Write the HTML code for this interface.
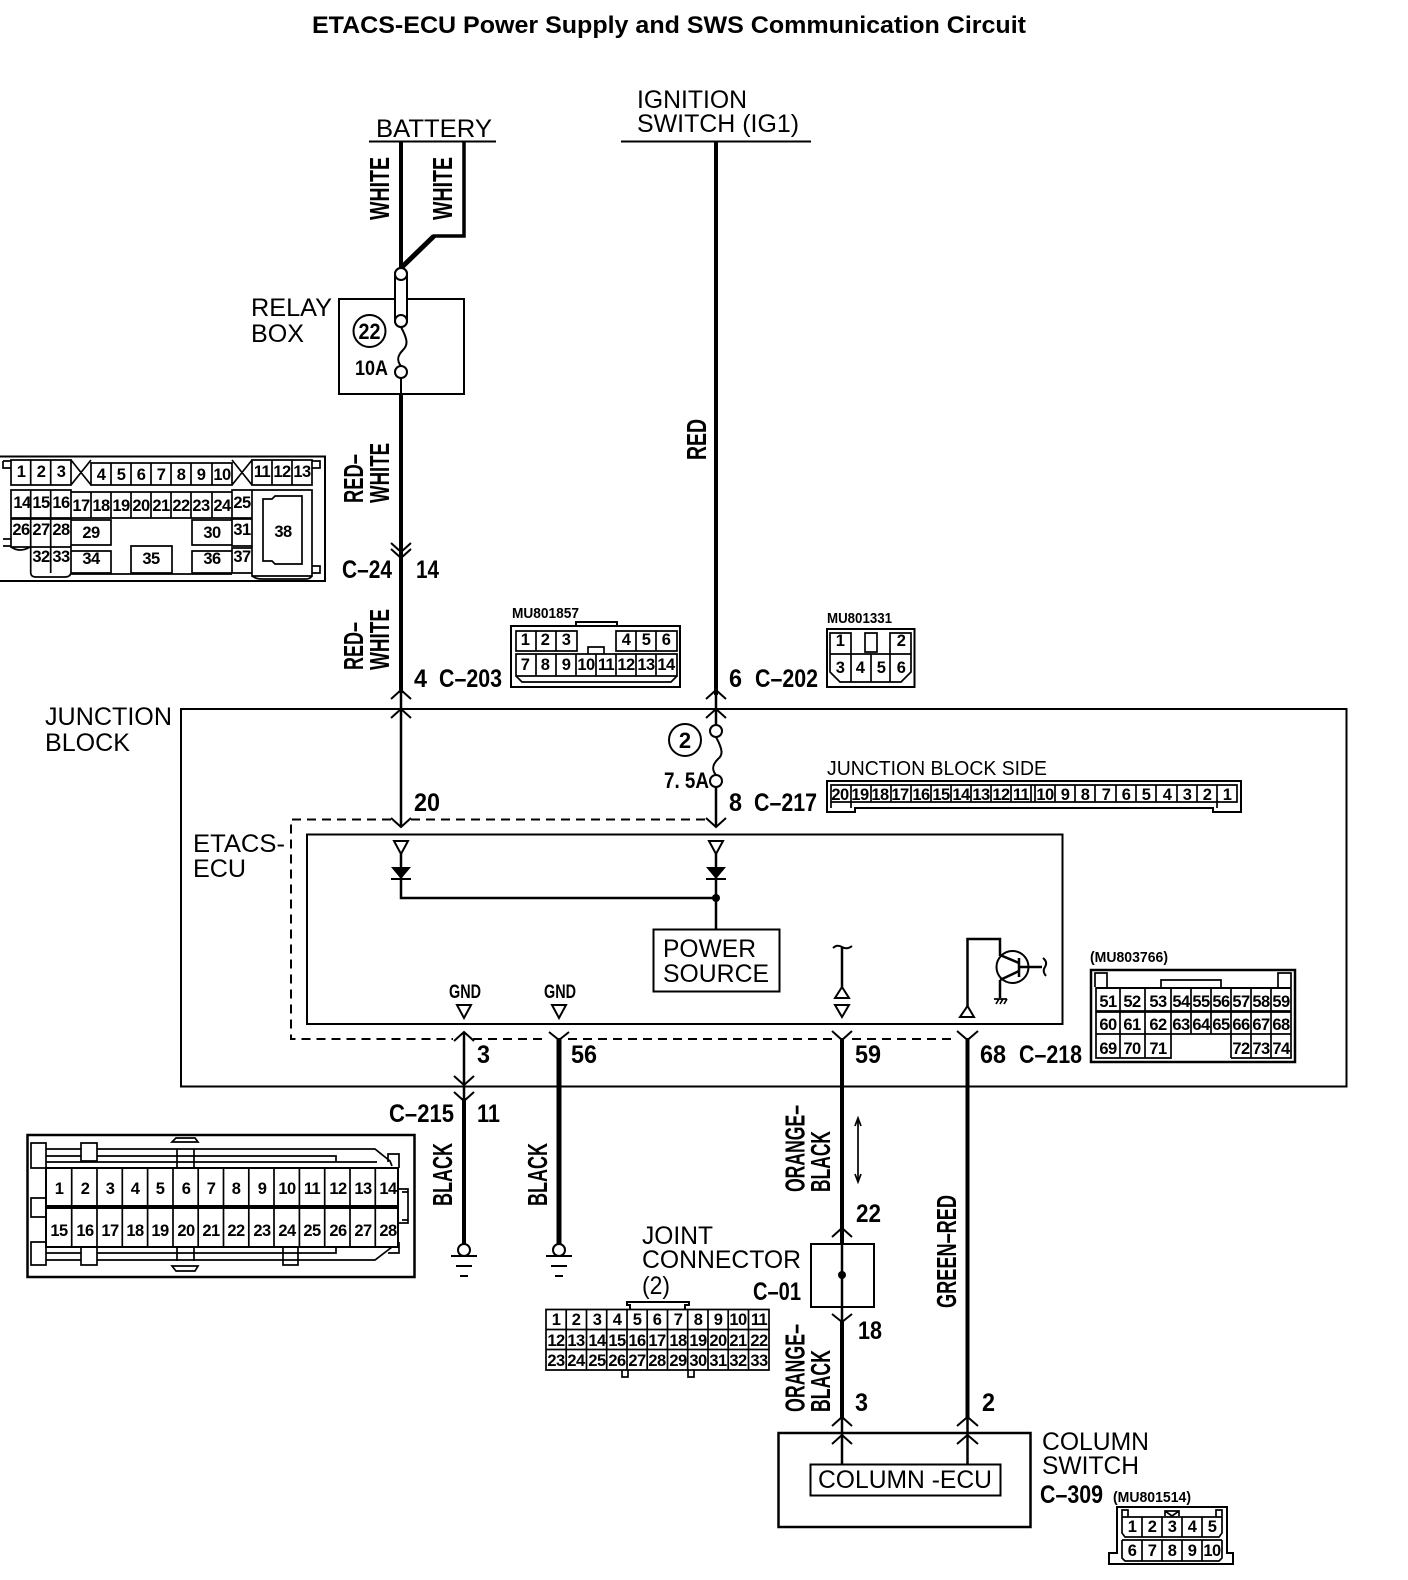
<!DOCTYPE html>
<html><head><meta charset="utf-8"><title>ETACS-ECU Power Supply and SWS Communication Circuit</title>
<style>
html,body{margin:0;padding:0;background:#fff}
svg{display:block}
text{font-family:"Liberation Sans",sans-serif;fill:#000}
.t{font-size:25px}
.b{font-size:25px;font-weight:bold}
.r{font-size:28px;font-weight:bold}
.n{font-size:16.5px;font-weight:bold;text-anchor:middle;letter-spacing:-.6px}
.m{font-size:15px;font-weight:bold}
.l{fill:none;stroke:#000;stroke-width:2}
.f{fill:none;stroke:#000;stroke-width:1.7}
.w{fill:none;stroke:#000;stroke-width:2.5}
.k{fill:none;stroke:#000;stroke-width:4}
.x{fill:none;stroke:#000;stroke-width:5}
.d{fill:none;stroke:#000;stroke-width:2;stroke-dasharray:9 6}
.c{fill:#fff;stroke:#000;stroke-width:2}
</style></head><body>
<svg xmlns="http://www.w3.org/2000/svg" width="1408" height="1580" viewBox="0 0 1408 1580">
<rect width="1408" height="1580" fill="#fff"/>
<text x="312" y="33" font-size="24" font-weight="bold" textLength="714" lengthAdjust="spacingAndGlyphs">ETACS-ECU Power Supply and SWS Communication Circuit</text>

<!-- top supply -->
<text class="t" x="376" y="137" textLength="116" lengthAdjust="spacingAndGlyphs">BATTERY</text>
<path class="l" d="M369 141.500H496M621 141.500H811"/>
<text class="t" x="637" y="108" textLength="110" lengthAdjust="spacingAndGlyphs">IGNITION</text>
<text class="t" x="637" y="132" textLength="162" lengthAdjust="spacingAndGlyphs">SWITCH (IG1)</text>
<path class="k" d="M401 141V268"/>
<path class="w" style="stroke-width:3.500" d="M464 141V236H433"/>
<path class="x" d="M434 236L401 268"/>
<text class="r" transform="rotate(-90 389 220)" x="389" y="220" textLength="63" lengthAdjust="spacingAndGlyphs">WHITE</text>
<text class="r" transform="rotate(-90 452 220)" x="452" y="220" textLength="63" lengthAdjust="spacingAndGlyphs">WHITE</text>

<!-- relay box -->
<text class="t" x="251" y="316" textLength="81" lengthAdjust="spacingAndGlyphs">RELAY</text>
<text class="t" x="251" y="342" textLength="53" lengthAdjust="spacingAndGlyphs">BOX</text>
<rect class="l" x="339" y="299" width="125" height="95"/>
<rect class="c" x="395" y="268" width="12" height="59" rx="6"/>
<circle class="c" cx="401" cy="274" r="6"/>
<circle class="c" cx="401" cy="321" r="6"/>
<path class="l" d="M401 327C408 340 408 345 403 350C398 355 396 360 401 366"/>
<circle class="c" cx="401" cy="372" r="6"/>
<path class="l" d="M401 378V394"/>
<circle class="l" cx="369.500" cy="331" r="16"/>
<text x="369.500" y="339" font-size="22" font-weight="bold" text-anchor="middle" textLength="22" lengthAdjust="spacingAndGlyphs">22</text>
<text x="355" y="375" font-size="21" font-weight="bold" textLength="33" lengthAdjust="spacingAndGlyphs">10A</text>

<path class="k" d="M401 394V693"/>
<path class="k" d="M716 141V695"/>
<text class="r" transform="rotate(-90 363 503)" x="363" y="503" textLength="49" lengthAdjust="spacingAndGlyphs">RED–</text>
<text class="r" transform="rotate(-90 389 503)" x="389" y="503" textLength="60" lengthAdjust="spacingAndGlyphs">WHITE</text>
<path class="l" d="M391 543L401 552L411 543M391 549L401 558L411 549"/>
<text class="b" x="342" y="578" textLength="50" lengthAdjust="spacingAndGlyphs">C–24</text>
<text class="b" x="416" y="578" textLength="23" lengthAdjust="spacingAndGlyphs">14</text>
<text class="r" transform="rotate(-90 363 670)" x="363" y="670" textLength="48" lengthAdjust="spacingAndGlyphs">RED–</text>
<text class="r" transform="rotate(-90 389 670)" x="389" y="670" textLength="61" lengthAdjust="spacingAndGlyphs">WHITE</text>
<text class="r" transform="rotate(-90 706 460)" x="706" y="460" textLength="41" lengthAdjust="spacingAndGlyphs">RED</text>
<text class="b" x="414" y="687" textLength="13" lengthAdjust="spacingAndGlyphs">4</text>
<text class="b" x="439" y="687" textLength="63" lengthAdjust="spacingAndGlyphs">C–203</text>
<text class="b" x="729" y="687" textLength="13" lengthAdjust="spacingAndGlyphs">6</text>
<text class="b" x="755" y="687" textLength="63" lengthAdjust="spacingAndGlyphs">C–202</text>

<!-- C-24 face -->
<path class="l" d="M0 456.500H325V581H0"/>
<path class="f" d="M3 461H11M3 461V468H11M312 461H320V468H312M11 460H71V485H11ZM30.700 460V485M50.700 460V485M71 460L91 485M91 460L71 485M91 463H232V485H91ZM111 463V485M131 463V485M151 463V485M171 463V485M191 463V485M212 463V485M232 460L252 485M252 460L232 485M252 460H312V485H252ZM272 460V485M292 460V485"/>
<path class="f" d="M11 490H71V518H11ZM30.700 490V518M50.700 490V518M71 492H232V518H71ZM91 492V518M111 492V518M131 492V518M151 492V518M171 492V518M191 492V518M212 492V518M232 490H252V518H232ZM252 490H312V576H252ZM263 499H272L275 496H302V564H275L272 561H263ZM11 519H71V547H11ZM30.700 519V573M50.700 519V573M11 547Q20 553 30 547M30.700 547H71V573Q70 577 65 577H36Q31 577 30.700 573M71 520H111V545H71ZM71 551H111V573H71ZM192 520H232V545H192ZM192 551H232V573H192ZM232 519H252V546H232ZM232 548H252V573H232ZM131 546H172V573H131ZM71 574H232M3 539H11V546H3M312 566H320V573H312M252 576Q256 579 262 579H306Q310 579 312 576"/>
<text class="n" x="21" y="477">1</text><text class="n" x="41" y="477">2</text><text class="n" x="61" y="477">3</text><text class="n" x="101" y="480">4</text><text class="n" x="121" y="480">5</text><text class="n" x="141" y="480">6</text><text class="n" x="161" y="480">7</text><text class="n" x="181" y="480">8</text><text class="n" x="201" y="480">9</text><text class="n" x="222" y="480">10</text><text class="n" x="262" y="477">11</text><text class="n" x="282" y="477">12</text><text class="n" x="302" y="477">13</text>
<text class="n" x="22" y="508">14</text><text class="n" x="41" y="508">15</text><text class="n" x="61" y="508">16</text><text class="n" x="81" y="511">17</text><text class="n" x="101" y="511">18</text><text class="n" x="121" y="511">19</text><text class="n" x="141" y="511">20</text><text class="n" x="161" y="511">21</text><text class="n" x="181" y="511">22</text><text class="n" x="201" y="511">23</text><text class="n" x="222" y="511">24</text><text class="n" x="242" y="508">25</text>
<text class="n" x="21" y="535">26</text><text class="n" x="41" y="535">27</text><text class="n" x="61" y="535">28</text><text class="n" x="91" y="538">29</text><text class="n" x="212" y="538">30</text><text class="n" x="242" y="535">31</text><text class="n" x="283" y="537">38</text>
<text class="n" x="41" y="562">32</text><text class="n" x="61" y="562">33</text><text class="n" x="91" y="564">34</text><text class="n" x="151" y="564">35</text><text class="n" x="212" y="564">36</text><text class="n" x="242" y="562">37</text>

<!-- MU801857 -->
<text class="m" x="512" y="618" textLength="67" lengthAdjust="spacingAndGlyphs">MU801857</text>
<path class="l" d="M511 626H680V687H511ZM576 626V622H617V626"/>
<path class="f" d="M516 631H577V651H516ZM536 631V651M556 631V651M616 631H677V651H616ZM636 631V651M656 631V651M516 654H677V676H516ZM536 654V676M556 654V676M576 654V676M596 654V676M616 654V676M636 654V676M656 654V676M588 654V647H604V654M516 676L522 682H671L677 676"/>
<text class="n" x="525" y="645">1</text><text class="n" x="545" y="645">2</text><text class="n" x="566" y="645">3</text><text class="n" x="626" y="645">4</text><text class="n" x="646" y="645">5</text><text class="n" x="666" y="645">6</text>
<text class="n" x="525" y="670">7</text><text class="n" x="545" y="670">8</text><text class="n" x="566" y="670">9</text><text class="n" x="586" y="670">10</text><text class="n" x="606" y="670">11</text><text class="n" x="626" y="670">12</text><text class="n" x="646" y="670">13</text><text class="n" x="666" y="670">14</text>

<!-- MU801331 -->
<text class="m" x="827" y="623" textLength="65" lengthAdjust="spacingAndGlyphs">MU801331</text>
<path class="f" style="stroke-width:2" d="M827 629H914.500V687H827Z"/>
<path class="f" d="M830 633H851V654H830ZM890 633H911V654H890ZM865 633H877V652H865ZM830 654H911V672L901 682H840L830 672ZM851 654V682M871 654V682M890 654V682"/>
<text class="n" x="840" y="646">1</text><text class="n" x="901" y="646">2</text><text class="n" x="840" y="673">3</text><text class="n" x="860" y="673">4</text><text class="n" x="881" y="673">5</text><text class="n" x="901" y="673">6</text>

<!-- junction block -->
<rect class="l" x="181" y="709" width="1165.500" height="377.500"/>
<text class="t" x="45" y="725" textLength="127" lengthAdjust="spacingAndGlyphs">JUNCTION</text>
<text class="t" x="45" y="751" textLength="85" lengthAdjust="spacingAndGlyphs">BLOCK</text>
<path class="l" d="M391 699L401 690L411 699M391 718L401 709L411 718M706 699L716 690L726 699M706 718L716 709L726 718"/>
<path class="w" d="M401 692V827M716 692V725M716 787V827"/>
<circle class="c" cx="716" cy="731" r="6"/>
<path class="l" d="M716 737C723 750 723 755 718 759C713 764 711 769 716 775"/>
<circle class="c" cx="716" cy="781" r="6"/>
<circle class="l" cx="685" cy="740" r="16"/>
<text x="685" y="748" font-size="22" font-weight="bold" text-anchor="middle">2</text>
<text x="664" y="788" font-size="22" font-weight="bold" textLength="45" lengthAdjust="spacingAndGlyphs">7. 5A</text>
<text class="b" x="414" y="811" textLength="26" lengthAdjust="spacingAndGlyphs">20</text>
<text class="b" x="729" y="811" textLength="13" lengthAdjust="spacingAndGlyphs">8</text>
<text class="b" x="754" y="811" textLength="63" lengthAdjust="spacingAndGlyphs">C–217</text>

<!-- JB side connector -->
<text x="827" y="775" font-size="20" textLength="220" lengthAdjust="spacingAndGlyphs">JUNCTION BLOCK SIDE</text>
<path class="l" d="M827 781H1241V812H1213V808H855V812H827Z"/>
<path class="f" d="M831 785H1237V802H831ZM851 785V802M871 785V802M891 785V802M911 785V802M931 785V802M951 785V802M971 785V802M991 785V802M1011 785V802M1031 785V802M1035 785V802M1055 785V802M1075 785V802M1095 785V802M1116 785V802M1136 785V802M1156 785V802M1177 785V802M1197 785V802M1217 785V802M831 808V802H851V808M1217 808V802H1237"/>
<text class="n" x="840" y="800">20</text><text class="n" x="860" y="800">19</text><text class="n" x="880" y="800">18</text><text class="n" x="900" y="800">17</text><text class="n" x="921" y="800">16</text><text class="n" x="941" y="800">15</text><text class="n" x="961" y="800">14</text><text class="n" x="981" y="800">13</text><text class="n" x="1001" y="800">12</text><text class="n" x="1021" y="800">11</text><text class="n" x="1045" y="800">10</text><text class="n" x="1065" y="800">9</text><text class="n" x="1085" y="800">8</text><text class="n" x="1106" y="800">7</text><text class="n" x="1126" y="800">6</text><text class="n" x="1146" y="800">5</text><text class="n" x="1167" y="800">4</text><text class="n" x="1187" y="800">3</text><text class="n" x="1207" y="800">2</text><text class="n" x="1227" y="800">1</text>

<!-- ETACS -->
<text class="t" x="193" y="852" textLength="92" lengthAdjust="spacingAndGlyphs">ETACS-</text>
<text class="t" x="193" y="877" textLength="53" lengthAdjust="spacingAndGlyphs">ECU</text>
<path class="d" d="M391 819.500H291V1039H453M473 1039H548M568 1039H832M852 1039H957M411 819.500H706"/>
<rect class="l" x="307" y="834.500" width="755.500" height="189.500"/>
<path class="l" d="M391 818L401 827L411 818M706 818L716 827L726 818"/>
<path class="c" d="M394 841H408L401 854Z"/>
<path class="c" d="M709 841H723L716 854Z"/>
<path class="w" d="M401 854V898H716M716 854V930"/>
<path d="M391 867H411L401 879ZM706 867H726L716 879Z" fill="#000"/>
<path class="l" d="M391 879H411M706 879H726"/>
<circle cx="716" cy="898" r="4" fill="#000"/>
<rect class="l" x="653.500" y="929.500" width="126" height="62" fill="#fff"/>
<text class="t" x="663" y="957" textLength="93" lengthAdjust="spacingAndGlyphs">POWER</text>
<text class="t" x="663" y="982" textLength="106" lengthAdjust="spacingAndGlyphs">SOURCE</text>

<text x="449" y="998" font-size="19" font-weight="bold" textLength="32" lengthAdjust="spacingAndGlyphs">GND</text>
<text x="544" y="998" font-size="19" font-weight="bold" textLength="32" lengthAdjust="spacingAndGlyphs">GND</text>
<path class="c" d="M457 1005H471L464 1018Z"/>
<path class="c" d="M552 1005H566L559 1018Z"/>
<!-- 59 inner -->
<path class="w" d="M842 947V987"/>
<path class="l" d="M833 948Q837 944 842 947Q847 950 852 946"/>
<path class="c" d="M835 998H849L842 987Z"/>
<path class="c" d="M835 1005H849L842 1017Z"/>
<!-- transistor -->
<path class="w" d="M967.500 1008V939H1000V956M1000 980V998"/>
<path class="c" d="M960 1017H974L967.500 1006Z"/>
<circle class="l" cx="1012.500" cy="967" r="16"/>
<path class="w" d="M1000 955L1019 963M1000 980L1019 971M1019 958V977M1019 967H1042"/>
<path class="l" d="M1043 958Q1048 962 1045 967Q1042 971 1046 976"/>
<path class="f" d="M994 999H1007M996 1004L999 999M1000 1004L1003 999M1004 1004L1007 999"/>

<!-- MU803766 -->
<text class="m" x="1090" y="962" textLength="78" lengthAdjust="spacingAndGlyphs">(MU803766)</text>
<rect class="l" x="1091" y="970" width="204" height="92" style="stroke-width:2.500"/>
<path class="f" d="M1095 987V973H1107V987M1278 987V973H1291V987M1161 987V980H1221V987M1096 988H1291V1011H1096ZM1096 1012H1291V1034H1096ZM1120 988V1058M1145 988V1058M1171 988V1034M1191 988V1034M1211 988V1034M1231 988V1058M1251 988V1058M1271 988V1058M1096 1034V1058H1171V1034M1231 1058H1291V1034"/>
<path class="l" d="M1096 988H1291"/>
<text class="n" x="1108" y="1007">51</text><text class="n" x="1132" y="1007">52</text><text class="n" x="1158" y="1007">53</text><text class="n" x="1181" y="1007">54</text><text class="n" x="1201" y="1007">55</text><text class="n" x="1221" y="1007">56</text><text class="n" x="1241" y="1007">57</text><text class="n" x="1261" y="1007">58</text><text class="n" x="1281" y="1007">59</text>
<text class="n" x="1108" y="1030">60</text><text class="n" x="1132" y="1030">61</text><text class="n" x="1158" y="1030">62</text><text class="n" x="1181" y="1030">63</text><text class="n" x="1201" y="1030">64</text><text class="n" x="1221" y="1030">65</text><text class="n" x="1241" y="1030">66</text><text class="n" x="1261" y="1030">67</text><text class="n" x="1281" y="1030">68</text>
<text class="n" x="1108" y="1054">69</text><text class="n" x="1132" y="1054">70</text><text class="n" x="1158" y="1054">71</text><text class="n" x="1241" y="1054">72</text><text class="n" x="1261" y="1054">73</text><text class="n" x="1281" y="1054">74</text>

<!-- lower wires -->
<path class="w" d="M464 1032V1098"/>
<path class="l" d="M454 1041L464 1032L474 1041M454 1076L464 1085L474 1076M454 1092L464 1101L474 1092"/>
<path class="k" d="M464 1098V1246"/>
<circle class="c" cx="464" cy="1250" r="6"/>
<path class="l" d="M451 1256H477M456 1266H472M460 1276H468"/>
<path class="l" d="M549 1032L559 1040L569 1032"/>
<path class="x" d="M559 1038V1246"/>
<circle class="c" cx="559" cy="1250" r="6"/>
<path class="l" d="M546 1256H572M551 1266H567M555 1276H563"/>
<text class="b" x="477" y="1063" textLength="13" lengthAdjust="spacingAndGlyphs">3</text>
<text class="b" x="571" y="1063" textLength="26" lengthAdjust="spacingAndGlyphs">56</text>
<text class="b" x="855" y="1063" textLength="26" lengthAdjust="spacingAndGlyphs">59</text>
<text class="b" x="980" y="1063" textLength="26" lengthAdjust="spacingAndGlyphs">68</text>
<text class="b" x="1019" y="1063" textLength="63" lengthAdjust="spacingAndGlyphs">C–218</text>
<text class="b" x="389" y="1122" textLength="65" lengthAdjust="spacingAndGlyphs">C–215</text>
<text class="b" x="477" y="1122" textLength="23" lengthAdjust="spacingAndGlyphs">11</text>
<text class="r" transform="rotate(-90 452 1206)" x="452" y="1206" textLength="63" lengthAdjust="spacingAndGlyphs">BLACK</text>
<text class="r" transform="rotate(-90 547 1206)" x="547" y="1206" textLength="63" lengthAdjust="spacingAndGlyphs">BLACK</text>

<path class="l" d="M832 1031L842 1040L852 1031M957 1031L967.500 1040L978 1031"/>
<path class="k" d="M842 1038V1243M967.500 1038V1419"/>
<text class="r" transform="rotate(-90 804.500 1192)" x="804.500" y="1192" textLength="87" lengthAdjust="spacingAndGlyphs">ORANGE–</text>
<text class="r" transform="rotate(-90 830 1192)" x="830" y="1192" textLength="61" lengthAdjust="spacingAndGlyphs">BLACK</text>
<path class="f" d="M858 1118V1182M855 1126L858 1118L861 1126M855 1174L858 1182L861 1174"/>
<text class="b" x="856" y="1222" textLength="25" lengthAdjust="spacingAndGlyphs">22</text>
<path class="l" d="M832 1237L842 1228L852 1237"/>
<rect class="l" x="811" y="1244" width="63" height="63"/>
<path class="w" d="M842 1243V1321"/>
<circle cx="842" cy="1275" r="4" fill="#000"/>
<path class="l" d="M832 1314L842 1322L852 1314"/>
<text class="b" x="858" y="1339" textLength="24" lengthAdjust="spacingAndGlyphs">18</text>
<path class="k" d="M842 1321V1419"/>
<text class="r" transform="rotate(-90 804.500 1412)" x="804.500" y="1412" textLength="88" lengthAdjust="spacingAndGlyphs">ORANGE–</text>
<text class="r" transform="rotate(-90 830 1412)" x="830" y="1412" textLength="62" lengthAdjust="spacingAndGlyphs">BLACK</text>
<text class="r" transform="rotate(-90 956 1308)" x="956" y="1308" textLength="113" lengthAdjust="spacingAndGlyphs">GREEN–RED</text>
<text class="b" x="855" y="1411" textLength="13" lengthAdjust="spacingAndGlyphs">3</text>
<text class="b" x="982" y="1411" textLength="13" lengthAdjust="spacingAndGlyphs">2</text>

<!-- column switch -->
<rect class="l" x="778.500" y="1433" width="252" height="94" style="stroke-width:2.500"/>
<path class="l" d="M832 1426L842 1417L852 1426M957 1426L967.500 1417L978 1426M832 1444L842 1435L852 1444M957 1444L967.500 1435L978 1444"/>
<path class="w" d="M842 1418V1465M967.500 1418V1465"/>
<rect class="l" x="810.500" y="1464.500" width="190" height="31"/>
<text class="t" x="818" y="1488" textLength="174" lengthAdjust="spacingAndGlyphs">COLUMN -ECU</text>
<text class="t" x="1042" y="1450" textLength="107" lengthAdjust="spacingAndGlyphs">COLUMN</text>
<text class="t" x="1042" y="1474" textLength="97" lengthAdjust="spacingAndGlyphs">SWITCH</text>
<text class="b" x="1040" y="1503" textLength="63" lengthAdjust="spacingAndGlyphs">C–309</text>
<text class="m" x="1113" y="1502" textLength="78" lengthAdjust="spacingAndGlyphs">(MU801514)</text>
<path class="l" d="M1117 1553V1507H1227V1553H1233V1564H1109V1553Z"/>
<path class="f" d="M1122 1517V1510H1128V1517M1216 1517V1510H1222V1517M1165 1516V1511H1179V1516M1165 1511L1172 1516L1179 1511M1122 1517H1222V1533L1219 1537H1125L1122 1533ZM1142 1517V1537M1162 1517V1537M1182 1517V1537M1202 1517V1537M1122 1540H1222M1122 1540V1558L1125 1561H1219L1222 1558V1540M1142 1540V1561M1162 1540V1561M1182 1540V1561M1202 1540V1561"/>
<text class="n" x="1132" y="1532">1</text><text class="n" x="1152" y="1532">2</text><text class="n" x="1172" y="1532">3</text><text class="n" x="1192" y="1532">4</text><text class="n" x="1212" y="1532">5</text>
<text class="n" x="1132" y="1556">6</text><text class="n" x="1152" y="1556">7</text><text class="n" x="1172" y="1556">8</text><text class="n" x="1192" y="1556">9</text><text class="n" x="1212" y="1556">10</text>

<!-- C-215 connector -->
<g transform="translate(0,-1)">
<rect class="l" x="27.500" y="1136" width="387" height="142" style="stroke-width:2.500"/>
<path class="f" d="M31 1144H46V1169H31ZM31 1199H46V1218H31ZM31 1243H46V1266H31ZM46 1150H81M46 1157H81M81 1144H97V1162H81ZM97 1150H375L390 1162L392 1167M97 1157H336V1163M46 1163H377M177 1150V1169M194 1150V1169M172 1143L176 1139H195L198 1143ZM172 1143H198M71.700 1169V1248M97 1169V1248M122.300 1169V1248M147.600 1169V1248M173 1169V1248M198.200 1169V1248M223.500 1169V1248M248.800 1169V1248M274 1169V1248M299.400 1169V1248M324.700 1169V1248M350 1169V1248M375.300 1169V1248M398 1190H408V1224H398M402 1193H408V1221H402M388 1163V1155H399V1169M46 1254H81M46 1261H81M81 1248H97V1266H81ZM97 1254H336V1248M97 1261H375L392 1248M283 1248H298V1266H283ZM177 1248V1262M194 1248V1262M172 1267L176 1272H195L198 1267ZM388 1254H399V1243"/>
<path class="l" d="M46 1169H398V1248H46ZM46 1207H398M46 1209H398"/>
<text class="n" x="59" y="1195">1</text><text class="n" x="85" y="1195">2</text><text class="n" x="110" y="1195">3</text><text class="n" x="135" y="1195">4</text><text class="n" x="160" y="1195">5</text><text class="n" x="186" y="1195">6</text><text class="n" x="211" y="1195">7</text><text class="n" x="236" y="1195">8</text><text class="n" x="262" y="1195">9</text><text class="n" x="287" y="1195">10</text><text class="n" x="312" y="1195">11</text><text class="n" x="338" y="1195">12</text><text class="n" x="363" y="1195">13</text><text class="n" x="388" y="1195">14</text>
<text class="n" x="59" y="1237">15</text><text class="n" x="85" y="1237">16</text><text class="n" x="110" y="1237">17</text><text class="n" x="135" y="1237">18</text><text class="n" x="160" y="1237">19</text><text class="n" x="186" y="1237">20</text><text class="n" x="211" y="1237">21</text><text class="n" x="236" y="1237">22</text><text class="n" x="262" y="1237">23</text><text class="n" x="287" y="1237">24</text><text class="n" x="312" y="1237">25</text><text class="n" x="338" y="1237">26</text><text class="n" x="363" y="1237">27</text><text class="n" x="388" y="1237">28</text>
</g>

<!-- joint connector -->
<text class="t" x="642" y="1244" textLength="71" lengthAdjust="spacingAndGlyphs">JOINT</text>
<text class="t" x="642" y="1268" textLength="159" lengthAdjust="spacingAndGlyphs">CONNECTOR</text>
<text class="t" x="642" y="1294" textLength="28" lengthAdjust="spacingAndGlyphs">(2)</text>
<text class="b" x="753" y="1300" textLength="48" lengthAdjust="spacingAndGlyphs">C–01</text>
<path class="l" d="M630 1309V1305H627V1302H689V1305H685V1309"/>
<path class="f" d="M546 1309.500H769V1370H546ZM546 1329.500H769M546 1349.500H769M566.200 1309.500V1370M586.500 1309.500V1370M606.700 1309.500V1370M627 1309.500V1370M647.200 1309.500V1370M667.500 1309.500V1370M687.700 1309.500V1370M708 1309.500V1370M728.200 1309.500V1370M748.500 1309.500V1370M622 1370V1377H628V1370M688 1370V1377H694V1370"/>
<text class="n" x="556" y="1325">1</text><text class="n" x="576" y="1325">2</text><text class="n" x="597" y="1325">3</text><text class="n" x="617" y="1325">4</text><text class="n" x="637" y="1325">5</text><text class="n" x="657" y="1325">6</text><text class="n" x="678" y="1325">7</text><text class="n" x="698" y="1325">8</text><text class="n" x="718" y="1325">9</text><text class="n" x="738" y="1325">10</text><text class="n" x="759" y="1325">11</text>
<text class="n" x="556" y="1346">12</text><text class="n" x="576" y="1346">13</text><text class="n" x="597" y="1346">14</text><text class="n" x="617" y="1346">15</text><text class="n" x="637" y="1346">16</text><text class="n" x="657" y="1346">17</text><text class="n" x="678" y="1346">18</text><text class="n" x="698" y="1346">19</text><text class="n" x="718" y="1346">20</text><text class="n" x="738" y="1346">21</text><text class="n" x="759" y="1346">22</text>
<text class="n" x="556" y="1366">23</text><text class="n" x="576" y="1366">24</text><text class="n" x="597" y="1366">25</text><text class="n" x="617" y="1366">26</text><text class="n" x="637" y="1366">27</text><text class="n" x="657" y="1366">28</text><text class="n" x="678" y="1366">29</text><text class="n" x="698" y="1366">30</text><text class="n" x="718" y="1366">31</text><text class="n" x="738" y="1366">32</text><text class="n" x="759" y="1366">33</text>
</svg>
</body></html>
